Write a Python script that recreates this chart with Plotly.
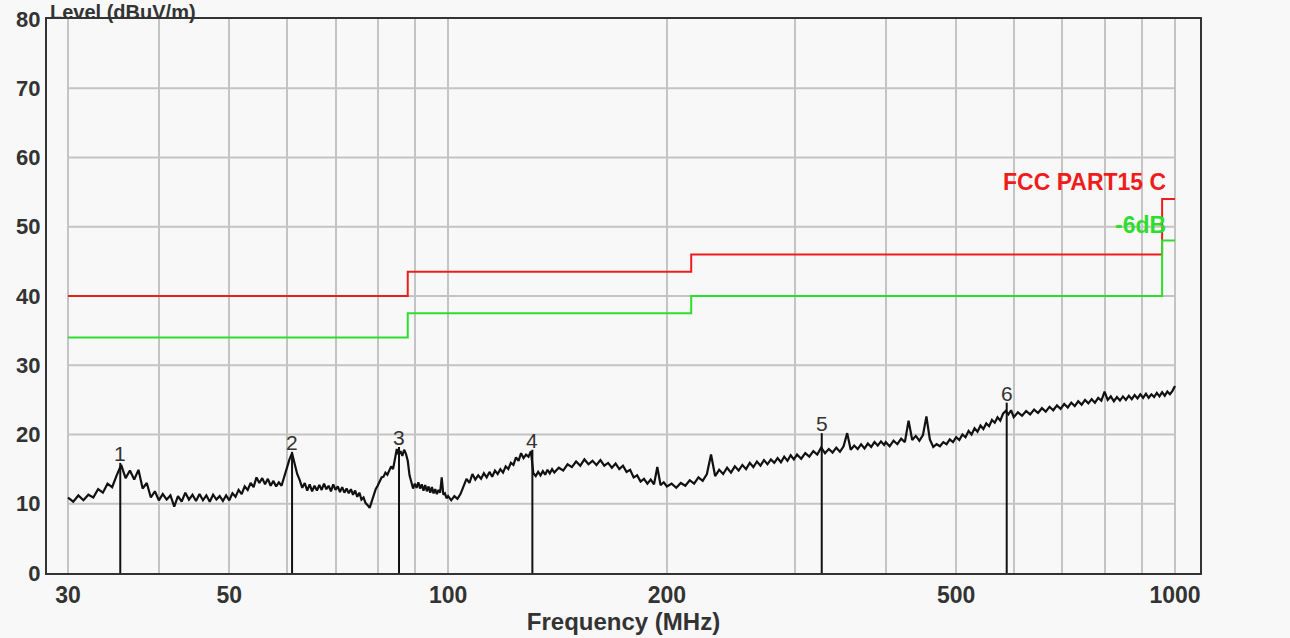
import numpy as np
import plotly.graph_objects as go

# ---------------- data ----------------
freq_a = [30, 30.5, 31, 31.5, 32, 32.5, 33, 33.5, 34, 34.5,
          35, 35.5, 36, 36.5, 37, 37.5, 38, 38.5, 39, 39.5,
          40, 40.5, 41, 41.5, 42, 42.5, 43, 43.5, 44, 44.5,
          45, 45.5, 46, 46.5, 47, 47.5, 48, 48.5, 49, 49.5,
          50, 50.5, 51, 51.5, 52, 52.5, 53, 53.5, 54, 54.5,
          55, 55.5, 56, 56.5, 57, 57.5, 58, 58.5, 59, 59.5,
          60, 60.5, 61, 61.5, 62, 62.5, 63, 63.5, 64, 64.5,
          65, 65.5, 66]
level_a = [10.9, 10.3, 11.2, 10.5, 11.3, 10.9, 12.1, 11.6, 12.9, 12.4,
           14.1, 15.6, 13.7, 14.8, 13.5, 14.9, 12.2, 13.0, 10.9, 11.8,
           10.5, 11.4, 10.6, 11.2, 9.6, 11.1, 10.3, 11.6, 10.6, 11.3,
           10.4, 11.4, 10.5, 11.2, 10.3, 11.3, 10.6, 11.1, 10.4, 11.2,
           10.5, 11.5, 11.0, 12.0, 11.4, 12.5, 12.0, 13.0, 12.4, 13.8,
           13.0, 13.7, 12.8, 13.6, 12.6, 13.3, 12.5, 13.1, 12.6, 14.0,
           15.2, 16.4, 17.3, 15.8, 14.3, 13.4, 12.3, 13.0, 11.9, 12.8,
           11.8, 12.6, 11.9]

freq_b = [66.5, 67, 67.5, 68, 68.5, 69, 69.5, 70, 70.5, 71,
          71.5, 72, 72.5, 73, 73.5, 74, 74.5, 75, 75.5, 76,
          76.5, 77, 77.5, 78, 78.5, 79, 79.5, 80, 80.5, 81,
          81.5, 82, 82.5, 83, 83.5, 84, 84.5, 85, 85.5, 86,
          86.5, 87, 87.5, 88, 88.5, 89, 89.5, 90, 90.5, 91,
          91.5, 92, 92.5, 93, 93.5, 94, 94.5, 95, 95.5, 96,
          96.5, 97, 97.5, 98, 98.5, 99, 99.5, 100]
level_b = [12.7, 12.0, 12.9, 12.1, 12.6, 11.8, 12.8, 12.0, 12.5, 11.7,
           12.4, 11.6, 12.2, 11.5, 12.1, 11.3, 11.9, 11.0, 11.6, 10.6,
           10.9, 10.1, 9.8, 9.4, 10.3, 11.2, 12.1, 12.6, 13.3, 13.8,
           13.9, 14.5, 14.2, 14.9, 15.4, 15.0, 16.6, 17.9, 17.1, 17.6,
           16.9, 17.8, 17.2, 16.2, 14.1, 13.0, 12.2, 12.9, 12.3, 13.1,
           12.2, 12.8, 11.9, 12.7, 11.8, 12.5, 11.6, 12.4, 11.5, 12.1,
           11.4, 12.0, 11.6, 13.8, 11.3, 11.5, 10.8, 11.1]

freq_c = [101, 102, 103, 104, 105, 106, 107, 108, 109, 110,
          111, 112, 113, 114, 115, 116, 117, 118, 119, 120,
          121, 122, 123, 124, 125, 126, 127, 128, 129, 130,
          131, 132, 133, 134, 135, 136, 137, 138, 139, 140,
          142, 144, 146, 148, 150, 152, 154, 156, 158, 160,
          162, 164, 166, 168, 170, 172, 174, 176, 178, 180,
          182, 184, 186, 188, 190, 192, 194, 196, 198, 200]
level_c = [10.5, 11.1, 10.7, 11.4, 12.4, 13.6, 13.0, 14.3, 13.5, 14.1,
           13.6, 14.4, 13.8, 14.6, 13.9, 14.8, 14.3, 15.0, 14.5, 15.4,
           15.0, 15.9, 15.6, 16.7, 16.2, 17.3, 16.6, 17.1, 16.8, 17.6,
           14.4, 14.0, 14.6, 14.1, 14.7, 14.2, 14.9, 14.4, 15.0, 14.5,
           15.2, 14.8, 15.7, 15.3, 16.1, 15.5, 16.4, 15.7, 16.2, 15.6,
           16.3, 15.5, 15.9, 15.2, 15.8, 15.0, 15.5, 14.6, 14.9, 13.8,
           14.1, 13.2, 13.6, 12.9, 13.5, 12.8, 15.3, 12.7, 13.1, 12.5]

freq_d = [203, 206, 209, 212, 215, 218, 221, 224, 227, 230,
          233, 236, 239, 242, 245, 248, 251, 254, 257, 260,
          263, 266, 269, 272, 275, 278, 281, 284, 287, 290,
          293, 296, 299,
          302, 306, 310, 314, 318, 322, 326, 330, 334, 338,
          342, 346, 350, 354, 358, 362, 366, 370, 374, 378,
          382, 386, 390, 394, 398]
level_d = [12.9, 12.3, 13.0, 12.6, 13.4, 12.9, 13.8, 13.3, 14.3, 17.1,
           14.0, 14.9, 14.3, 15.2, 14.5, 15.4, 14.8, 15.6, 15.0, 15.9,
           15.3, 16.1, 15.5, 16.3, 15.7, 16.4, 15.9, 16.6, 16.0, 16.8,
           16.2, 17.0, 16.4,
           17.1, 16.5, 17.3, 16.8, 17.6, 17.1, 18.1, 17.3, 17.9, 17.4,
           18.1, 17.5, 18.3, 20.2, 17.8, 18.4, 17.9, 18.6, 18.0, 18.7,
           18.2, 18.9, 18.4, 19.0, 18.5]

freq_e = [400, 405, 410, 415, 420, 425, 430, 435, 440, 445,
          450, 455, 460, 465, 470, 475, 480, 485, 490, 495,
          500, 505, 510, 515, 520, 525, 530, 535, 540, 545,
          550, 555, 560, 565, 570, 575, 580, 585, 590, 595, 600,
          608, 616, 624, 632, 640, 648, 656, 664, 672, 680,
          688, 696, 704, 712, 720, 728, 736, 744, 752, 760,
          768, 776, 784, 792, 800, 808, 816, 824, 832, 840,
          848, 856, 864, 872, 880, 888, 896, 904, 912, 920,
          928, 936, 944, 952, 960, 968, 976, 984, 992, 1000]
level_e = [18.9, 18.3, 19.1, 18.6, 19.4, 18.9, 22.0, 19.2, 19.8, 19.1,
           19.9, 22.6, 19.3, 18.2, 18.6, 18.3, 18.9, 18.6, 19.3, 18.9,
           19.6, 19.2, 20.0, 19.6, 20.5, 20.0, 20.9, 20.4, 21.3, 20.8,
           21.6, 21.2, 22.1, 21.7, 22.5, 22.0, 23.0, 23.4, 22.9, 23.5, 22.5,
           23.2, 22.7, 23.4, 22.9, 23.6, 23.1, 23.8, 23.3, 24.0, 23.5,
           24.2, 23.7, 24.4, 23.9, 24.6, 24.1, 24.8, 24.3, 25.0, 24.5,
           25.1, 24.6, 25.3, 24.9, 26.2, 25.0, 25.5, 24.8, 25.4, 24.9,
           25.5, 25.0, 25.6, 25.1, 25.7, 25.2, 25.8, 25.3, 25.9, 25.3,
           25.8, 25.4, 26.0, 25.5, 26.1, 25.6, 26.2, 25.8, 26.3, 27.0]

# limit lines (FCC Part 15 C and the -6 dB margin)
limit_freq = [30, 88, 216, 960, 1000]
limit_fcc = [40, 43.5, 46, 54, 54]
limit_margin = [34, 37.5, 40, 48, 48]

# marker peaks
marker_freq = [35.4, 61.0, 85.6, 130.6, 326.6, 586.8]
marker_level = [15.9, 17.5, 18.2, 17.8, 20.2, 24.6]
marker_label = ["1", "2", "3", "4", "5", "6"]

# axis ticks
x_grid_vals = [30, 40, 50, 60, 70, 80, 90, 100, 200, 300, 400, 500, 600, 700, 800, 900, 1000]
x_tick_labels = {30: "30", 50: "50", 100: "100", 200: "200", 500: "500", 1000: "1000"}
y_tick_vals = [0, 10, 20, 30, 40, 50, 60, 70, 80]

# ---------------- figure ----------------
freq = freq_a + freq_b + freq_c + freq_d + freq_e
level = level_a + level_b + level_c + level_d + level_e

BG = "#f8f8f8"
GRID = "#c4c4c4"
FRAME = "#333333"
TXT = "#333333"
RED = "#f01c1c"
GREEN = "#2ede2e"
FONT = "Liberation Sans, Arial, sans-serif"

fig = go.Figure()

fig.add_trace(go.Scatter(x=limit_freq, y=limit_fcc, mode="lines", line=dict(color=RED, width=2, shape="hv"),
                         hoverinfo="skip"))
fig.add_trace(go.Scatter(x=limit_freq, y=limit_margin, mode="lines", line=dict(color=GREEN, width=2, shape="hv"),
                         hoverinfo="skip"))

fig.add_trace(go.Scatter(x=freq, y=level, mode="lines", line=dict(color="#111111", width=2.2)))

mx, my = [], []
for f, v in zip(marker_freq, marker_level):
    mx += [f, f, None]
    my += [0, v, None]
fig.add_trace(go.Scatter(x=mx, y=my, mode="lines", line=dict(color="#111111", width=2), hoverinfo="skip"))

shapes = []
for yv in y_tick_vals[1:-1]:
    shapes.append(dict(type="line", xref="x", yref="y", x0=30, x1=1000, y0=yv, y1=yv,
                       line=dict(color=GRID, width=2), layer="below"))

annotations = []
for f, v, t in zip(marker_freq, marker_level, marker_label):
    annotations.append(dict(x=np.log10(f), y=v, xref="x", yref="y", text=t, showarrow=False,
                            yanchor="bottom", xanchor="center", yshift=-4,
                            font=dict(family=FONT, size=21, color=TXT)))

annotations.append(dict(x=np.log10(960), y=56.5, xref="x", yref="y", text="FCC PART15 C", showarrow=False,
                        xanchor="right", yanchor="middle", xshift=6,
                        font=dict(family=FONT, size=23, color=RED, weight="bold")))
annotations.append(dict(x=np.log10(960), y=50.3, xref="x", yref="y", text="-6dB", showarrow=False,
                        xanchor="right", yanchor="middle", xshift=6,
                        font=dict(family=FONT, size=23, color=GREEN, weight="bold")))
annotations.append(dict(x=0, y=1, xref="paper", yref="paper", text="Level (dBuV/m)", showarrow=False,
                        xanchor="left", yanchor="top", xshift=1, yshift=20,
                        font=dict(family=FONT, size=20, color=TXT, weight="bold")))

fig.update_layout(
    width=1290, height=638,
    margin=dict(l=47, r=90, t=19, b=65),
    paper_bgcolor=BG, plot_bgcolor=BG,
    showlegend=False,
    shapes=shapes,
    annotations=annotations,
    xaxis=dict(
        type="log",
        range=[1.4482, 3.0344],
        tickmode="array",
        tickvals=x_grid_vals,
        ticktext=[x_tick_labels.get(v, "") for v in x_grid_vals],
        showgrid=True, gridcolor=GRID, gridwidth=2,
        showline=True, linecolor=FRAME, linewidth=2, mirror=True,
        ticks="", zeroline=False, automargin=False,
        tickfont=dict(family=FONT, size=23, color=TXT, weight="bold"),
        title=dict(text="Frequency (MHz)", font=dict(family=FONT, size=24, color=TXT, weight="bold"), standoff=6),
    ),
    yaxis=dict(
        range=[0, 80],
        tickmode="array",
        tickvals=y_tick_vals,
        showgrid=False,
        showline=True, linecolor=FRAME, linewidth=2, mirror=True,
        ticks="", zeroline=False, automargin=False,
        tickfont=dict(family=FONT, size=22, color=TXT, weight="bold"),
    ),
)

fig.write_html("out.html")
